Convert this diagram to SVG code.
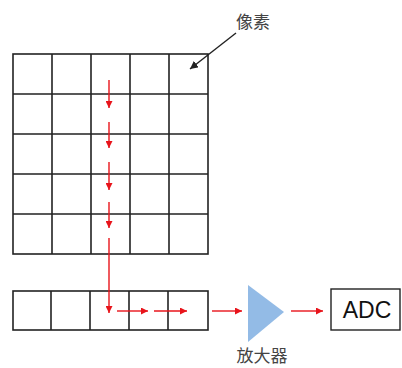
<svg xmlns="http://www.w3.org/2000/svg" width="402" height="368" viewBox="0 0 402 368">
<style>
.cell{fill:#fff;stroke:#222;stroke-width:1.6}
.red{stroke:#e8141b;stroke-width:1.4;fill:none;marker-end:url(#rh)}
.blk{stroke:#222;stroke-width:1.4;fill:none;marker-end:url(#bh)}
.lbl{font-family:"Noto Sans CJK SC","Noto Sans",sans-serif;font-size:17px;fill:#444}
</style>
<defs>
<marker id="rh" viewBox="0 0 10 10" refX="10" refY="5" markerWidth="7" markerHeight="7" markerUnits="userSpaceOnUse" orient="auto"><path d="M0,0L10,5L0,10z" fill="#e8141b"/></marker>
<marker id="bh" viewBox="0 0 10 10" refX="10" refY="5" markerWidth="8" markerHeight="8" markerUnits="userSpaceOnUse" orient="auto"><path d="M0,0L10,5L0,10z" fill="#222"/></marker>
</defs>
<rect width="402" height="368" fill="#fff"/>
<g id="pixel-array">
<rect class="cell" x="13" y="54" width="195" height="200"/>
<path d="M52,54V254M91,54V254M130,54V254M169,54V254M13,94H208M13,134H208M13,174H208M13,214H208" stroke="#222" stroke-width="1.6" fill="none"/>
</g>
<g id="readout-row">
<rect class="cell" x="13" y="291" width="195" height="39"/>
<path d="M51,291V330M90,291V330M129,291V330M168,291V330" stroke="#222" stroke-width="1.6" fill="none"/>
</g>
<g id="amplifier">
<polygon points="248,285 284,312 248,342" fill="#93bbe6"/>
<text class="lbl" x="262" y="362" text-anchor="middle">放大器</text>
</g>
<g id="adc">
<rect x="331" y="289" width="69" height="41" fill="#fff" stroke="#222" stroke-width="1.4"/>
<text x="367" y="318" text-anchor="middle" font-family="Liberation Sans,Arial,sans-serif" font-size="23" fill="#111">ADC</text>
</g>
<g id="pixel-label">
<text class="lbl" x="253" y="28" text-anchor="middle">像素</text>
</g>
<g id="connectors">
<path class="blk" d="M236,33L190,69"/>
<path class="red" d="M109,80V108"/>
<path class="red" d="M109,122V148"/>
<path class="red" d="M109,162V190"/>
<path class="red" d="M109,202V228"/>
<path class="red" d="M109,238V313"/>
<path class="red" d="M117,311H148"/>
<path class="red" d="M154,311H187"/>
<path class="red" d="M212,311H242"/>
<path class="red" d="M291,311H323"/>
</g>
</svg>
